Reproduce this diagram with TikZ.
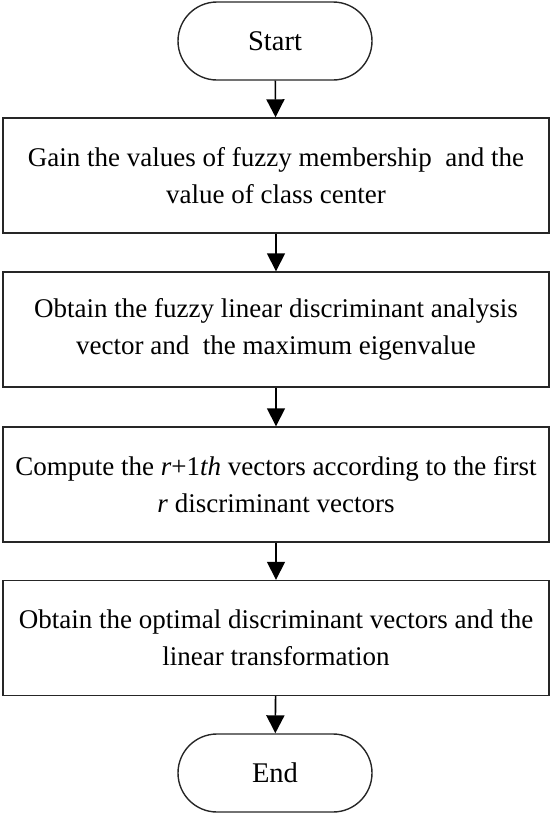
\documentclass[tikz,border=0pt]{standalone}
\usepackage{fontspec}
\setmainfont{Liberation Serif}
\usetikzlibrary{arrows.meta}
\begin{document}
\begin{tikzpicture}[x=1pt,y=1pt,
  box/.style={draw=black!85, line width=1.4pt, rectangle, minimum width=546pt, minimum height=115pt,
    align=center, inner sep=0pt, font=\fontsize{27}{37}\selectfont},
  term/.style={draw=black!85, line width=1.4pt, rectangle, rounded corners=39pt, minimum width=194pt, minimum height=78pt,
    inner sep=0pt, font=\fontsize{28.5}{32}\selectfont},
  flow/.style={draw=black, line width=1.6pt, -{Triangle[length=18pt,width=18pt]}}]
\useasboundingbox (0,0) rectangle (551,-814);
\node[term] (start) at (275,-41) {Start};
\node[box] (b1) at (276,-175.5) {Gain the values of fuzzy membership~ and the\\value of class center};
\node[box] (b2) at (276,-329.5) {Obtain the fuzzy linear discriminant analysis\\vector and~ the maximum eigenvalue};
\node[box] (b3) at (276,-484.5) {Compute the \textit{r}+1\textit{th} vectors according to the first\\\textit{r} discriminant vectors};
\node[box] (b4) at (276,-638) {Obtain the optimal discriminant vectors and the\\linear transformation};
\node[term] (end) at (275,-773) {End};
\draw[flow] (start) -- (b1);
\draw[flow] (b1) -- (b2);
\draw[flow] (b2) -- (b3);
\draw[flow] (b3) -- (b4);
\draw[flow] (b4) -- (end);
\end{tikzpicture}
\end{document}
